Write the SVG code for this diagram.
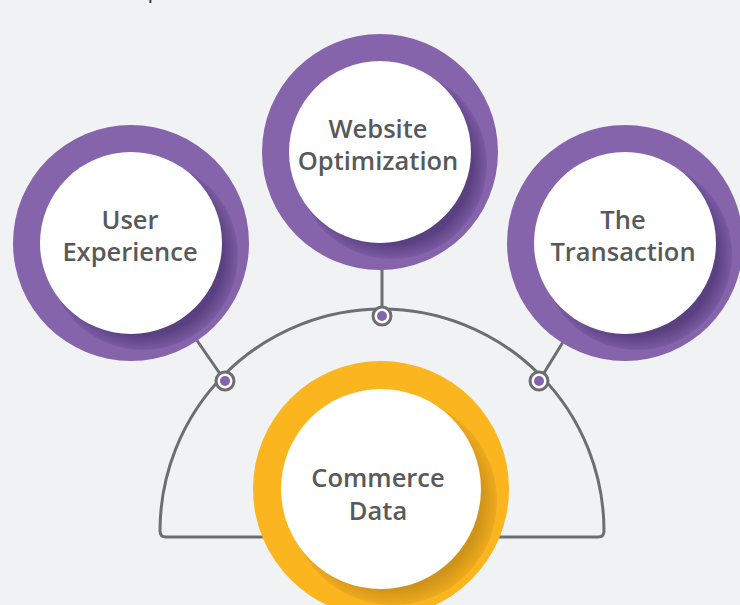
<svg xmlns="http://www.w3.org/2000/svg" width="740" height="605" viewBox="0 0 740 605">
<style>
.lbl{font-family:"Open Sans",Lato,"Liberation Sans",sans-serif;font-weight:600;font-size:25.5px;fill:#58595b;text-anchor:middle}
.ring{fill:#8564ab}
.ringY{fill:#fbb51f}
.inner{fill:#ffffff}
.wire{fill:none;stroke:#6d6e70;stroke-width:3}
.dot{fill:#ffffff;stroke:#6d6e70;stroke-width:3}
.dotc{fill:#8564ab}
</style>
<defs>
<radialGradient id="shP" cx="0.5" cy="0.5" r="0.5">
<stop offset="0.84" stop-color="#5a4080"/>
<stop offset="1" stop-color="#7a5aa2"/>
</radialGradient>
<radialGradient id="shY" cx="0.5" cy="0.5" r="0.5">
<stop offset="0.84" stop-color="#cf9317"/>
<stop offset="1" stop-color="#eeaa1e"/>
</radialGradient>
<clipPath id="cTop"><circle cx="380" cy="152" r="118"/></clipPath>
<clipPath id="cLeft"><circle cx="131" cy="243" r="118"/></clipPath>
<clipPath id="cRight"><circle cx="625" cy="243" r="118"/></clipPath>
<clipPath id="cBot"><circle cx="381" cy="489" r="128"/></clipPath>
</defs>
<rect width="740" height="605" fill="#f1f2f4"/>
<text x="148" y="0" font-family="Lato,'Liberation Sans',sans-serif" font-size="20" fill="#333">p</text>
<g id="connectors">
<path class="wire" d="M166 537 L598 537 Q604 537 604 531 A222 222 0 0 0 160 531 Q160 537 166 537 Z"/>
<line class="wire" x1="382" y1="316" x2="382" y2="262"/>
<line class="wire" x1="225" y1="381" x2="160" y2="287"/>
<line class="wire" x1="539" y1="381" x2="597" y2="287"/>
<circle class="dot" cx="382" cy="316" r="9"/>
<circle class="dotc" cx="382" cy="316" r="5"/>
<circle class="dot" cx="225" cy="381" r="9"/>
<circle class="dotc" cx="225" cy="381" r="5"/>
<circle class="dot" cx="539" cy="381" r="9"/>
<circle class="dotc" cx="539" cy="381" r="5"/>
</g>
<g id="node-website">
<circle class="ring" cx="380" cy="152" r="118"/>
<circle clip-path="url(#cTop)" fill="url(#shP)" cx="392" cy="164" r="95"/>
<circle class="inner" cx="380" cy="152" r="91"/>
<text class="lbl" x="378" y="138">Website</text>
<text class="lbl" x="378" y="170">Optimization</text>
</g>
<g id="node-user">
<circle class="ring" cx="131" cy="243" r="118"/>
<circle clip-path="url(#cLeft)" fill="url(#shP)" cx="143" cy="255" r="95"/>
<circle class="inner" cx="131" cy="243" r="91"/>
<text class="lbl" x="130" y="229">User</text>
<text class="lbl" x="130" y="261">Experience</text>
</g>
<g id="node-transaction">
<circle class="ring" cx="625" cy="243" r="118"/>
<circle clip-path="url(#cRight)" fill="url(#shP)" cx="637" cy="255" r="95"/>
<circle class="inner" cx="625" cy="243" r="91"/>
<text class="lbl" x="623" y="229">The</text>
<text class="lbl" x="623" y="261">Transaction</text>
</g>
<g id="node-commerce">
<circle class="ringY" cx="381" cy="489" r="128"/>
<circle clip-path="url(#cBot)" fill="url(#shY)" cx="393" cy="501" r="104"/>
<circle class="inner" cx="381" cy="489" r="100"/>
<text class="lbl" x="378" y="487">Commerce</text>
<text class="lbl" x="378" y="520">Data</text>
</g>
</svg>
